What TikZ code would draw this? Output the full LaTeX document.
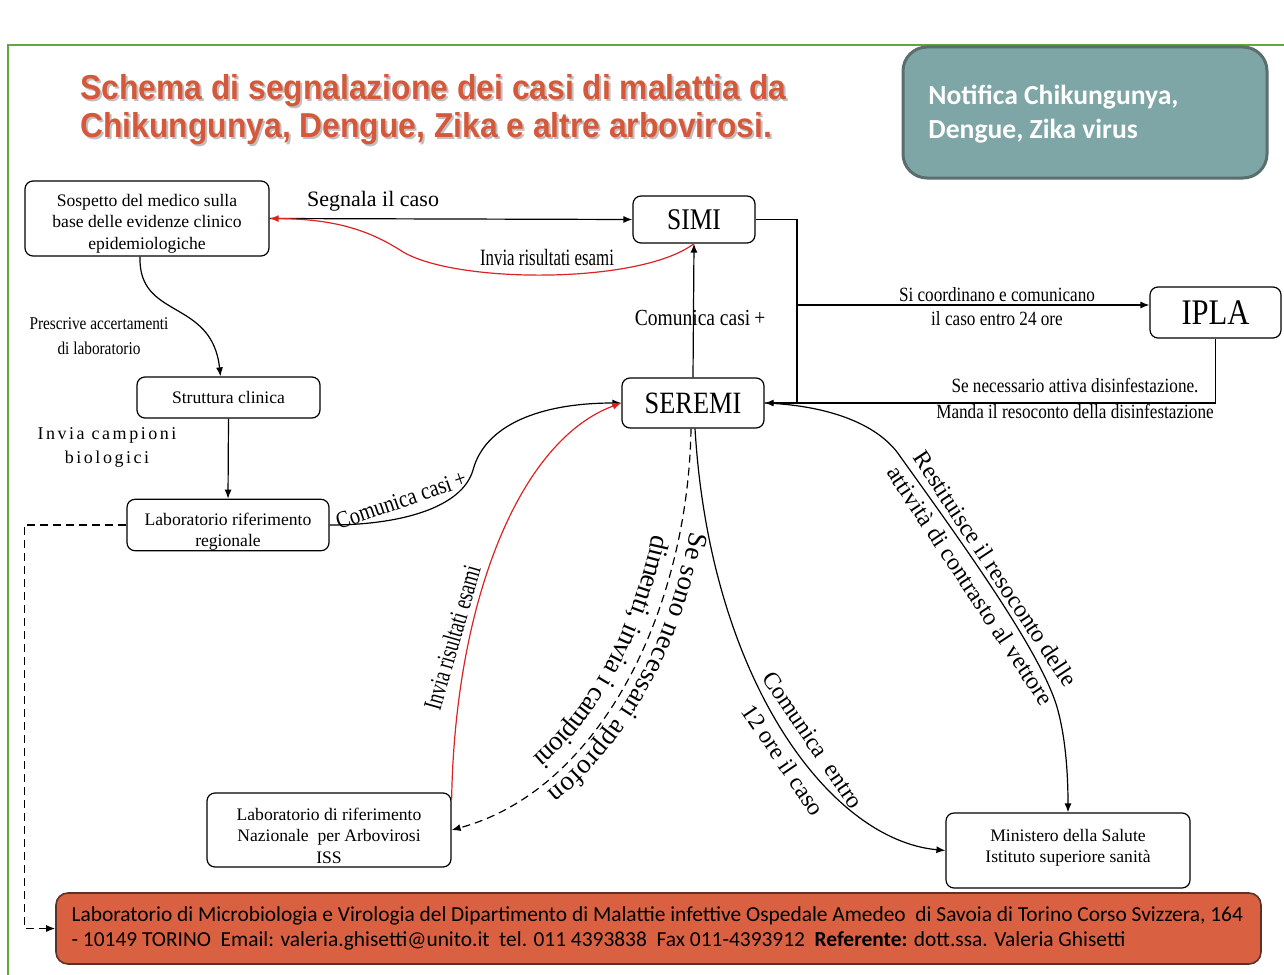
\documentclass[tikz,border=0pt]{standalone}
\usepackage{fontspec}
\setmainfont{Liberation Serif}
\newfontfamily\cserif[FakeStretch=0.85]{Liberation Serif}
\newfontfamily\ncserif[FakeStretch=0.72]{Liberation Serif}
\newfontfamily\titlefont[FakeStretch=0.92]{Liberation Sans}
\newfontfamily\calfont{Carlito}
\newfontfamily\spacedserif[LetterSpace=14]{Liberation Serif}
\usetikzlibrary{arrows.meta,calc,decorations.text}
\definecolor{frameGreen}{RGB}{96,168,58}
\definecolor{titleRed}{RGB}{214,88,58}
\definecolor{tealFill}{RGB}{127,166,166}
\definecolor{tealLine}{RGB}{90,110,110}
\definecolor{labFill}{RGB}{217,97,66}
\definecolor{labLine}{RGB}{90,50,40}
\definecolor{linkRed}{RGB}{220,35,35}
% strut that pushes the first line of a box label downwards
\newcommand{\topstrut}[1]{\rule{0pt}{#1}}

\begin{document}
\begin{tikzpicture}[x=0.5pt,y=-0.5pt,
  box/.style={draw, rounded corners=4pt, line width=0.6pt, align=center, inner sep=0pt,
    font=\fontsize{8.8}{10.8}\selectfont},
  link/.style={line width=0.6pt, -{Latex[length=4.5pt,width=3.5pt]}},
  redlink/.style={link, draw=linkRed, color=linkRed},
  dashlink/.style={link, dash pattern=on 4pt off 2.5pt},
  lbl/.style={inner sep=0pt, align=center},
]
\useasboundingbox (0,0) rectangle (1284,974);

% outer frame
\draw[frameGreen, line width=1.2pt] (8,990) -- (8,45) -- (1300,45);

% title with soft shadow
\node[anchor=west, align=left, inner sep=0pt, text=black, opacity=0.25,
  font=\titlefont\bfseries\fontsize{17.3}{19}\selectfont] (titleshadow) at (82,112)
  {Schema di segnalazione dei casi di malattia da\\Chikungunya, Dengue, Zika e altre arbovirosi.};
\node[anchor=west, align=left, inner sep=0pt, text=titleRed,
  font=\titlefont\bfseries\fontsize{17.3}{19}\selectfont] (title) at (80,110)
  {Schema di segnalazione dei casi di malattia da\\Chikungunya, Dengue, Zika e altre arbovirosi.};

% notification box
\node[draw=tealLine, fill=tealFill, line width=1.5pt, rounded corners=12pt,
  minimum width=182pt, minimum height=65.5pt] (notif) at (1085,112.5) {};
\node[anchor=west, align=left, inner sep=0pt, text=white,
  font=\calfont\bfseries\fontsize{13.8}{17}\selectfont] (notiftext) at (928,114)
  {Notifica Chikungunya,\\Dengue, Zika virus};

% actors
\node[box, minimum width=122pt, minimum height=37.5pt] (sosp) at (147,218.5)
  {\topstrut{11pt}Sospetto del medico sulla\\base delle evidenze clinico\\epidemiologiche};
\node[box, minimum width=61pt, minimum height=23.5pt, font=\cserif\fontsize{15}{17}\selectfont] (simi) at (694,219.5) {SIMI};
\node[box, minimum width=65.5pt, minimum height=25.5pt, font=\cserif\fontsize{18}{20}\selectfont] (ipla) at (1215.5,312.5) {IPLA};
\node[box, minimum width=71pt, minimum height=25pt, font=\cserif\fontsize{15.5}{17}\selectfont] (seremi) at (693,403) {SEREMI};
\node[box, minimum width=91.5pt, minimum height=20.5pt] (strutt) at (228.5,397.5) {Struttura clinica};
\node[box, minimum width=101pt, minimum height=25pt] (labreg) at (228,525)
  {\topstrut{13pt}Laboratorio riferimento\\regionale};
\node[box, minimum width=122pt, minimum height=37pt] (labnaz) at (329,830)
  {\topstrut{12pt}Laboratorio di riferimento\\Nazionale\ \ per Arbovirosi\\ISS};
\node[box, minimum width=122pt, minimum height=37.5pt] (minist) at (1068,850.5)
  {Ministero della Salute\\Istituto superiore sanità\rule[-4.5pt]{0pt}{1pt}};

% regional laboratory banner
\node[draw=labLine, fill=labFill, line width=0.8pt, rounded corners=6pt,
  minimum width=602.5pt, minimum height=35.5pt] (labtorino) at (658.5,928.5) {};
\node[anchor=west, align=left, inner sep=0pt, font=\calfont\fontsize{10.7}{12.5}\selectfont]
  (labtorinotext) at ([xshift=8pt]labtorino.west)
  {Laboratorio di Microbiologia e Virologia del Dipartimento di Malattie infettive Ospedale Amedeo\ \ di Savoia di Torino Corso Svizzera, 164\\
   - 10149 TORINO\ \ Email: valeria.ghisetti@unito.it\ \ tel. 011 4393838\ \ Fax 011-4393912\ \ \textbf{Referente:} dott.ssa. Valeria Ghisetti};

% doctor -> SIMI, results back
\draw[link] (sosp.east) -- (simi.west);
\node[lbl, font=\fontsize{11}{13}\selectfont] (lsegn) at (373,201) {Segnala il caso};
\draw[redlink] (simi.south) .. controls (640,285) and (450,284) .. (400,250)
  .. controls (365,228) and (330,219) .. (sosp.east);
\node[lbl, font=\ncserif\fontsize{11.7}{13}\selectfont] (linvia1) at (547,257) {Invia risultati esami};

% SEREMI -> SIMI
\draw[link] (seremi.north) -- (simi.south);
\node[lbl, font=\cserif\fontsize{11.5}{13}\selectfont] (lcom1) at (700,318) {Comunica casi\,+};

% SIMI / SEREMI <-> IPLA
\coordinate (jtop) at (797,305);
\coordinate (jbot) at (797,403);
\draw[line width=0.6pt] (simi.east) -| (jbot);
\draw[link] (jtop) -- (jtop -| ipla.west);
\draw[link] (ipla.south) |- (seremi.east);
\node[lbl, font=\cserif\fontsize{10.1}{12}\selectfont] (lcoord) at (997,307)
  {Si coordinano e comunicano\\il caso entro 24 ore};
\node[lbl, font=\cserif\fontsize{10.1}{13}\selectfont] (ldisinf) at (1075,398)
  {Se necessario attiva disinfestazione.\\Manda il resoconto della disinfestazione};

% doctor -> clinic -> regional lab
\draw[link] ([xshift=-3.5pt]sosp.south) .. controls (138,320) and (212,298) .. ([xshift=-4pt]strutt.north);
\node[lbl, font=\cserif\fontsize{9}{12.5}\selectfont] (lpresc) at (99,336) {Prescrive accertamenti\\di laboratorio};
\draw[link] (strutt.south) -- (labreg.north);
\node[lbl, font=\spacedserif\fontsize{9}{12}\selectfont] (lcamp) at (107,447) {Invia campioni\\biologici};

% regional lab -> SEREMI
\draw[link] (labreg.east) .. controls (400,525) and (462,508) .. (473,470)
  .. controls (485,425) and (540,403) .. (seremi.west);
\node[lbl, rotate=19, font=\cserif\fontsize{12}{14}\selectfont] (lcom2) at (401,500) {Comunica casi\,+};

% national lab -> SEREMI (results)
\draw[redlink] ([yshift=15pt]labnaz.east) .. controls (455,600) and (520,440) .. (seremi.west);
\node[lbl, rotate=74, font=\ncserif\fontsize{13}{15}\selectfont] (linvia2) at (452,638) {Invia risultati esami};

% SEREMI -> national lab (samples), with its label written along the curve
\draw[dashlink] ([xshift=-1pt]seremi.south) .. controls (688,610) and (600,790) .. (labnaz.east);
\path[decorate, decoration={text along path, text align=center, raise=5pt,
    text={|\fontsize{13.6}{15}\selectfont|Se sono necessari approfon}}]
  ([xshift=-1pt]seremi.south) .. controls (688,610) and (600,790) .. (labnaz.east);
\path[decorate, decoration={text along path, text align=center, raise=-13pt,
    text={|\fontsize{13.6}{15}\selectfont|dimenti{,} invia i campioni}}]
  ([xshift=-1pt]seremi.south) .. controls (688,610) and (600,790) .. (labnaz.east);

% SEREMI -> Ministry
\draw[link] ([xshift=1pt]seremi.south) .. controls (710,680) and (830,840) .. (minist.west);
\node[lbl, rotate=-56, font=\fontsize{12}{18}\selectfont] (lentro) at (798,750)
  {Comunica\ \ entro\\12 ore il caso};
\draw[link] (seremi.east) .. controls (820,405) and (872,420) .. (897,452)
  .. controls (960,540) and (1040,650) .. (1057,707)
  .. controls (1065,735) and (1068,770) .. (minist.north);
\node[lbl, rotate=-56.5, font=\fontsize{12}{15}\selectfont] (lrest) at (983,577)
  {Restituisce il resoconto delle\\attività di contrasto al vettore};

% regional lab -> banner
\draw[dashlink] (labreg.west) -- ++(-51pt,0) |- (labtorino.west);
\end{tikzpicture}
\end{document}
